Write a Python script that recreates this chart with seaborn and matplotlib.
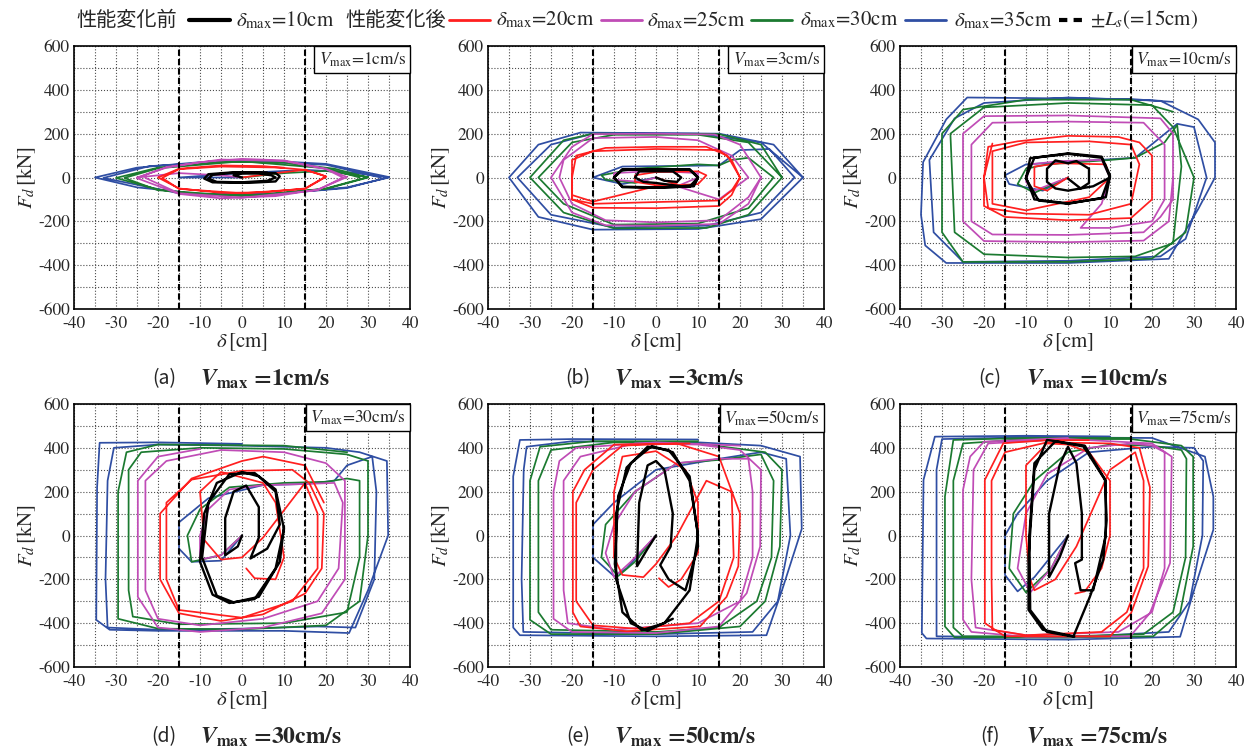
import matplotlib
matplotlib.use("Agg")
import matplotlib.pyplot as plt
from matplotlib.lines import Line2D
from matplotlib.offsetbox import AnchoredText
from matplotlib.ticker import MultipleLocator
import seaborn as sns

# damper stroke levels (delta_max) and their colours
DMAX = [10, 20, 25, 30, 35]
COLORS = ["#000000", "#ff1f1f", "#c04cb6", "#1b7a30", "#2f4ea3"]
VMAX = [1, 3, 10, 30, 50, 75]
TAGS = ["a", "b", "c", "d", "e", "f"]
LS = 15  # stroke limit +-Ls

# loops as (delta [cm], Fd [kN]) vertices
# (a) Vmax = 1cm/s
A10 = [(0, 0), (-2, 10), (0, 18), (4, 18), (7, 10), (8, 0), (6, -15), (0, -22), (-6, -20), (-8, -5), (-7, 12),
       (-3, 20), (3, 22), (8, 20), (9, 5), (8, -18), (2, -24), (-7, -22), (-9, -5), (-8, 15), (-2, 24), (6, 22)]
A20 = [(0, 0), (8, 20), (15, 35), (20, 5), (15, -50), (5, -68), (-5, -70), (-15, -50), (-20, 0), (-15, 40),
       (-5, 55), (5, 52), (15, 35), (19, 12), (20, 3), (15, -52), (0, -72), (-15, -52), (-19, -2), (-15, 38),
       (-5, 50), (10, 45)]
A25 = [(0, 0), (-5, 10), (-15, 20), (-25, 0), (-18, 45), (-10, 70), (0, 85), (10, 78), (20, 40), (25, 2),
       (18, -55), (8, -85), (-5, -95), (-15, -75), (-25, -3), (-18, 48), (-5, 82), (10, 75), (20, 38), (24, 0),
       (18, -58), (0, -92), (-15, -72), (-23, -2)]
A30 = [(0, 0), (10, 20), (20, 30), (30, 2), (20, -50), (5, -80), (-10, -78), (-20, -55), (-30, -2), (-20, 45),
       (-5, 72), (10, 68), (22, 40), (30, 0), (20, -52), (0, -85), (-20, -58), (-28, -2), (-20, 42), (0, 74),
       (20, 42), (28, 0)]
A35 = [(0, 0), (-15, 0), (0, 20), (15, 35), (25, 25), (35, 0), (25, -45), (10, -72), (-10, -75), (-25, -45),
       (-35, 0), (-25, 45), (-10, 70), (5, 78), (20, 62), (35, 2), (25, -48), (5, -80), (-15, -72), (-33, -2),
       (-22, 52), (0, 75), (20, 58), (33, 0)]

# (b) Vmax = 3cm/s
B10 = [(0, 0), (2, -15), (5, -20), (6, 0), (4, 28), (-4, 28), (-5, 0), (-3, -20), (0, -25), (6, -40), (9, -35),
       (10, 0), (8, 35), (0, 38), (-8, 35), (-10, 0), (-8, -42), (0, -45), (8, -42), (10, 0), (8, 38), (-8, 38),
       (-10, 0), (-8, -44), (0, -47), (9, -40), (10, 0)]
B20 = [(0, 0), (3, -20), (5, -30), (0, -35), (-5, -20), (-5, 10), (0, 25), (10, 28), (12, 10), (10, -30),
       (0, -40), (-15, -110), (-20, -80), (-20, 80), (-15, 120), (0, 130), (15, 125), (18, 80), (20, 0),
       (18, -60), (15, -105), (0, -112), (-15, -120), (-20, -100), (-20, 0), (-19, 100), (-12, 135), (0, 140),
       (12, 140), (17, 100), (20, 0), (18, -80), (15, -130), (0, -140), (-15, -138), (-20, -100), (-20, 0)]
B25 = [(0, 0), (-4, -20), (-10, -10), (-10, 20), (0, 30), (10, 20), (10, 0), (5, -40), (15, -100), (22, 0),
       (18, 100), (10, 170), (0, 185), (-15, 180), (-22, 80), (-23, 0), (-20, -120), (-12, -195), (0, -205),
       (15, -195), (22, -90), (25, 0), (20, 150), (14, 196), (0, 200), (-15, 198), (-20, 140), (-25, 0),
       (-20, -160), (-12, -218), (0, -220), (15, -212), (22, -120), (25, 0)]
B30 = [(0, 0), (-5, -25), (-12, -10), (-13, 10), (-5, 40), (10, 60), (15, 55), (18, 80), (22, 90), (28, 0),
       (22, -140), (10, -210), (-10, -215), (-22, -120), (-28, 0), (-20, 160), (-10, 195), (10, 195), (22, 160),
       (30, 0), (22, -170), (12, -230), (-10, -232), (-22, -160), (-30, 0), (-22, 170), (-15, 200), (15, 198),
       (25, 150), (30, 0)]
B35 = [(0, 0), (-8, -30), (-15, 0), (-8, 50), (15, 55), (20, 125), (27, 130), (33, 0), (25, -160), (12, -220),
       (-10, -228), (-25, -170), (-33, 0), (-25, 150), (-15, 200), (10, 200), (25, 160), (35, 0), (25, -190),
       (10, -235), (-15, -238), (-28, -180), (-35, 0), (-28, 150), (-18, 205), (15, 200), (28, 150), (35, 0)]

# (c) Vmax = 10cm/s
C10 = [(0, -5), (3, -50), (5, -25), (5, 40), (2, 75), (0, 65), (-3, 78), (-5, 40), (-5, -20), (-3, -50),
       (0, -60), (6, -40), (10, 0), (8, 90), (0, 108), (-8, 90), (-10, 0), (-8, -100), (0, -118), (8, -95),
       (10, 10), (8, 95), (0, 110), (-9, 88), (-10, -5), (-7, -105), (0, -120), (9, -90), (10, 5)]
C20 = [(0, 0), (-5, -60), (-8, -40), (-8, 50), (-2, 65), (9, 60), (10, 0), (5, -90), (-10, -150), (-18, -120),
       (-18, 120), (-10, 160), (5, 165), (15, 150), (17, 60), (15, -120), (5, -170), (-10, -165), (-19, -140),
       (-20, 0), (-19, 140), (-12, 165), (0, 190), (12, 185), (17, 160), (20, 100), (20, -100), (15, -185),
       (0, -195), (-15, -180), (-20, -130), (-20, 0), (-18, 155)]
C25 = [(0, 0), (-8, -60), (-10, -20), (-9, 60), (-2, 75), (8, 80), (10, 0), (8, -120), (3, -230), (10, -230),
       (20, -200), (23, -100), (23, 150), (18, 250), (0, 255), (-18, 250), (-23, 150), (-23, -200), (-18, -260),
       (0, -262), (18, -250), (22, -180), (25, -100), (25, 200), (22, 270), (0, 283), (-20, 280), (-25, 200),
       (-25, -200), (-20, -290), (0, -295), (18, -288), (24, -200), (25, 0)]
C30 = [(0, 0), (-8, -70), (-12, -30), (-10, 40), (-5, 60), (10, 80), (16, 90), (23, 160), (26, 240), (27, 50),
       (25, -300), (16, -360), (0, -365), (-20, -350), (-27, -250), (-28, 200), (-20, 320), (0, 340), (20, 330),
       (25, 230), (30, 0), (28, -250), (20, -370), (0, -385), (-25, -385), (-30, -250), (-30, 200), (-25, 310),
       (-10, 355), (15, 355), (25, 300)]
C35 = [(0, 0), (-6, -60), (-14, -30), (-15, 10), (-10, 60), (16, 90), (26, 245), (30, 230), (33, 0), (28, -280),
       (22, -360), (0, -380), (-25, -385), (-32, -250), (-33, 80), (-27, 270), (-20, 340), (0, 365), (22, 350),
       (31, 265), (35, 160), (35, 0), (31, -144), (24, -371), (0, -390), (-29, -390), (-34, -310), (-35, -170),
       (-34.5, 70), (-29, 265), (-24, 365), (15, 358), (25, 345)]

# (d) Vmax = 30cm/s
D10 = [(0, 0), (-1, -50), (-4, -90), (-4, 80), (-2, 200), (1, 228), (4, 130), (4, -10), (2, -105), (6, -60),
       (9, 50), (8, 200), (4, 270), (0, 290), (-6, 240), (-9, 100), (-10, -120), (-7, -270), (-3, -308),
       (3, -290), (8, -150), (10, 30), (8, 210), (3, 285), (-3, 280), (-8, 150), (-9.5, -100), (-6, -275),
       (-2, -305), (4, -280), (9, -120), (10, 40)]
D20 = [(1, -150), (3, -195), (8, -200), (10, -100), (8, 150), (5, 240), (-5, 290), (-10, 200), (-9, -20),
       (-5, -110), (0, -100), (5, -10), (15, 240), (18, 100), (18, -150), (12, -300), (0, -375), (-15, -340),
       (-18, -200), (-18, 150), (-12, 255), (0, 295), (12, 300), (16, 240), (19.5, 100), (19, -150), (15, -265),
       (5, -360), (-5, -390), (-15, -355), (-19.5, -200), (-19.5, 100), (-12, 260), (0, 340), (5, 360),
       (15, 320), (19.5, 150)]
D25 = [(0, 0), (-5, -90), (-10, -110), (-10, 0), (-8, 120), (-3, 210), (5, 230), (15, 235), (22, 240), (24, 150),
       (23, -150), (18, -300), (5, -380), (-10, -410), (-20, -380), (-23, -250), (-23, 250), (-18, 340),
       (-5, 390), (10, 380), (20, 330), (24.5, 250), (24.5, -200), (19, -355), (5, -420), (-10, -440),
       (-20, -420), (-24.8, -280), (-24.8, 250), (-20, 360), (-10, 395)]
D30 = [(0, 0), (-5, -90), (-12, -120), (-13, 0), (-10, 120), (-3, 220), (10, 240), (20, 245), (25, 260),
       (28, 250), (28, -100), (25, -350), (10, -400), (-15, -405), (-26, -370), (-27, -250), (-27, 300),
       (-24, 380), (-10, 400), (10, 395), (25, 370), (30, 340), (30, 0), (28, -300), (20, -410), (0, -428),
       (-20, -425), (-29.5, -380), (-29.5, 200), (-27.5, 380), (-20, 415), (10, 410), (25, 380)]
D35 = [(0, 0), (-5, -115), (-12, -120), (-15, -60), (-15, 60), (-8, 170), (5, 230), (15, 235), (22, 250),
       (25, 320), (31, 360), (32, 200), (31.5, -200), (27, -420), (18, -415), (0, -425), (-20, -430), (-32, -420),
       (-32.5, -200), (-32, 250), (-30.5, 400), (-20, 415), (0, 410), (20, 400), (28, 380), (34.5, 340),
       (34.8, 0), (30, -250), (25.5, -445), (10, -435), (-20, -435), (-31.5, -430), (-34.7, -385), (-34.5, 220),
       (-33.9, 423), (-20, 425), (0, 418)]

# (e) Vmax = 50cm/s
E10 = [(0, 0), (-2, -60), (-4.5, -140), (-4, 150), (-2, 320), (0, 340), (2, 300), (4, 100), (3.5, -50),
       (1, -135), (3, -200), (7, -250), (10, -50), (9.8, 30), (8, 250), (4, 380), (-1, 408), (-6, 330), (-9, 180),
       (-9.8, -130), (-8, -350), (-3.4, -432), (2, -400), (8, -250), (10, 0), (8, 270), (3, 390), (-2, 405),
       (-7, 310), (-9.5, 100), (-9.5, -200), (-6, -400), (-2, -435), (4, -380)]
E20 = [(0.7, -195), (3, -235), (6, -200), (10, -80), (10, 150), (7, 300), (0, 385), (-8, 360), (-10, 200),
       (-10, -100), (-8, -180), (-3, -190), (0, -130), (5, 0), (12, 250), (18, 200), (18.5, -100), (15, -300),
       (8, -400), (-5, -425), (-15, -410), (-19, -300), (-19, 150), (-15, 300), (-8, 410), (5, 420), (15, 360),
       (20, 100), (19.6, -140), (16.8, -280), (10.5, -415), (-7, -437), (-18, -415), (-19.8, -350),
       (-19.8, 200), (-17, 300), (-10, 415), (8, 420)]
E25 = [(0, 0), (-6, -120), (-10, -190), (-12, -80), (-10, 50), (-5, 200), (5, 330), (15, 350), (22, 350),
       (23, 200), (23, -100), (20, -300), (10, -400), (-10, -430), (-21, -400), (-22, -250), (-22, 250),
       (-18, 360), (-5, 420), (10, 415), (20, 390), (25, 300), (24.8, -50), (21.6, -263), (15, -415), (0, -445),
       (-20, -440), (-24.4, -380), (-24.4, 200), (-23, 340), (-19, 400), (0, 425), (20, 410)]
E30 = [(0, 0), (-5, -120), (-9, -185), (-13, -100), (-12, 50), (-5, 200), (5, 330), (15, 345), (25, 370),
       (28, 250), (27.5, -100), (24, -300), (15, -420), (0, -440), (-25, -430), (-28, -350), (-28, 250),
       (-25, 390), (-10, 425), (10, 420), (26, 380), (30, 300), (29.5, -50), (26, -300), (20, -415), (0, -450),
       (-25, -450), (-30, -385), (-30, 250), (-27.6, 405), (-15, 430), (10, 430)]
E35 = [(0, 0), (-7, -150), (-10, -185), (-15, -100), (-15, 50), (-10, 150), (0, 300), (15, 350), (25, 380),
       (31, 350), (32, 0), (29, -300), (23, -440), (0, -450), (-31.6, -440), (-32, -200), (-31.5, 300),
       (-30.8, 405), (-20, 430), (10, 425), (25, 410), (34.3, 360), (34.7, 30), (30, -250), (26.3, -455),
       (0, -460), (-32.4, -455), (-34, -420), (-34, 270), (-32.4, 436), (-20, 440), (10, 438)]

# (f) Vmax = 75cm/s
F10 = [(0, 0), (-2, -100), (-4.5, -190), (-4.5, 100), (-2, 320), (0, 405), (2, 330), (3.3, 100), (3.3, -110),
       (1.7, -126), (3, -250), (6, -250), (9, 0), (9, 250), (4, 410), (-5, 436), (-8, 300), (-9.4, -100),
       (-9.4, -339), (-6, -430), (1.3, -460), (5.2, -280), (8.4, -110), (9.2, 70), (8.8, 254), (3.7, 406),
       (-3, 430), (-8, 330), (-9.2, 0), (-9, -340), (-5, -440), (1.5, -462)]
F20 = [(1.7, -265), (4, -255), (8, -150), (10, 0), (10, 250), (5, 380), (0, 415), (-5, 420), (-10, 320),
       (-10, 0), (-9, -200), (-8, -250), (-3, -200), (2, -50), (10, 300), (16, 380), (18, 250), (18, -150),
       (14, -350), (8, -440), (-10, -455), (-18, -430), (-18.2, -200), (-18.2, 250), (-15, 380), (-5, 425),
       (10, 420), (17, 400), (19.5, 220), (19.1, -140), (15, -355), (10, -460), (-15, -460), (-19.8, -400),
       (-19.8, 254), (-15.4, 421), (-5, 435), (5, 435)]
F25 = [(0, 0), (-4, -150), (-9, -260), (-12, -150), (-10, 100), (-5, 280), (5, 400), (15, 420), (20, 410),
       (23, 380), (23, -150), (20, -350), (12, -440), (-10, -455), (-22, -420), (-23, -200), (-22.5, 300),
       (-19, 420), (0, 440), (20, 420), (24.7, 360), (24.3, -126), (19.5, -354), (14.8, -460), (-10, -462),
       (-23, -440), (-25, -384), (-25, 208), (-23.3, 360), (-20, 428), (0, 445)]
F30 = [(0, 0), (-4, -150), (-10, -260), (-14, -150), (-13, 100), (-8, 250), (0, 380), (10, 415), (20, 410),
       (27, 390), (28.2, 350), (28, -100), (25, -350), (18, -450), (0, -460), (-25, -460), (-27.3, -420),
       (-27.3, 250), (-25, 420), (-10, 440), (15, 440), (27, 410), (29.8, 360), (29.8, -50), (26.7, -354),
       (20.3, -460), (0, -465), (-27, -465), (-29.3, -415), (-29.3, 178), (-27.3, 436), (-10, 445), (15, 445)]
F35 = [(0, 0), (-8, -190), (-12, -255), (-15, -180), (-15, 0), (-12, 100), (-5, 250), (5, 380), (20, 405),
       (30, 400), (32.2, 340), (32, 0), (29, -300), (24, -440), (0, -465), (-31.3, -460), (-31.3, -200),
       (-31.3, 300), (-30, 440), (-10, 448), (20, 445), (32.6, 360), (34.6, 178), (34.6, 26), (30, -250),
       (26.7, -462), (0, -475), (-33.7, -470), (-34.8, -445), (-34.4, 254), (-31.7, 451), (-10, 455), (10, 452)]

LOOPS = [[A10, A20, A25, A30, A35], [B10, B20, B25, B30, B35], [C10, C20, C25, C30, C35],
         [D10, D20, D25, D30, D35], [E10, E20, E25, E30, E35], [F10, F20, F25, F30, F35]]

sns.set_style("white")
plt.rcParams["font.family"] = ["STIXGeneral", "Noto Sans CJK JP"]
plt.rcParams["mathtext.fontset"] = "stix"
plt.rcParams["axes.unicode_minus"] = False

W, H = 1252, 749
fig = plt.figure(figsize=(W / 100, H / 100), dpi=100)
lefts = [74, 488, 900]
tops = [46, 404]
aw, ah = 336, 263

for i, (tag, v, loops) in enumerate(zip(TAGS, VMAX, LOOPS)):
    r, c = divmod(i, 3)
    ax = fig.add_axes([lefts[c] / W, 1 - (tops[r] + ah) / H, aw / W, ah / H])
    for k in [4, 3, 2, 1, 0]:
        xs = [p[0] for p in loops[k]]
        ys = [p[1] for p in loops[k]]
        sns.lineplot(x=xs, y=ys, sort=False, estimator=None, color=COLORS[k],
                     linewidth=1.7 if k == 0 else 1.25, ax=ax, zorder=3 + (4 - k),
                     solid_joinstyle="round")
    for s in (-LS, LS):
        ax.axvline(s, color="k", ls=(0, (3, 1.5)), lw=1.5, zorder=9)
    ax.set_xlim(-40, 40)
    ax.set_ylim(-600, 600)
    ax.xaxis.set_major_locator(MultipleLocator(10))
    ax.xaxis.set_minor_locator(MultipleLocator(5))
    ax.yaxis.set_major_locator(MultipleLocator(200))
    ax.yaxis.set_minor_locator(MultipleLocator(100))
    ax.grid(which="both", ls=":", color="0.3", lw=0.8)
    ax.set_axisbelow(True)
    ax.tick_params(which="major", direction="in", length=3, labelsize=12.5)
    ax.tick_params(axis="x", pad=5)
    ax.tick_params(axis="y", pad=3)
    ax.tick_params(which="minor", length=0)
    for sp in ax.spines.values():
        sp.set_color("k")
        sp.set_linewidth(1.2)
    ax.set_xlabel(r"$\delta\,$[cm]", fontsize=15, labelpad=0)
    ax.set_ylabel(r"$F_d\,$[kN]", fontsize=15, labelpad=0)
    at = AnchoredText(r"$V_{\rm max}$=%dcm/s" % v, loc="upper right", borderpad=0, pad=0.25,
                      prop=dict(size=12.5))
    at.patch.set_linewidth(1.0)
    at.patch.set_edgecolor("k")
    at.zorder = 10
    ax.add_artist(at)

    cx = lefts[c] + aw / 2
    cy = 1 - (tops[r] + ah + 70) / H
    fig.text((cx - 78) / W, cy, "(%s)" % tag, family=["Noto Sans CJK JP"], fontsize=14,
             ha="center", va="center")
    fig.text((cx - 42) / W, cy, r"$\mathbfit{V}_{\mathbf{max}}$ =%dcm/s" % v, fontsize=17,
             fontweight="bold", ha="left", va="center")

# legend row across the top
ly = 1 - 20 / H
fig.text(76 / W, ly, "性能変化前", family=["Noto Sans CJK JP"], fontsize=14.5, va="center")
fig.text(345 / W, ly, "性能変化後", family=["Noto Sans CJK JP"], fontsize=14.5, va="center")
handles = [(189, 230), (449, 490), (601, 642), (751, 792), (905, 946)]
label_x = [236, 496, 647, 800, 954]
for k, ((x0, x1), lx) in enumerate(zip(handles, label_x)):
    fig.add_artist(Line2D([x0 / W, x1 / W], [ly, ly], color=COLORS[k], lw=3 if k == 0 else 2,
                          transform=fig.transFigure))
    fig.text(lx / W, ly, r"$\delta_{\rm max}$=%dcm" % DMAX[k], fontsize=15, va="center")
fig.add_artist(Line2D([1059 / W, 1088 / W], [ly, ly], color="k", lw=3, ls=(0, (2, 1.5)),
                      transform=fig.transFigure))
fig.text(1090 / W, ly, r"$\pm L_s$(=%dcm)" % LS, fontsize=15, va="center")

fig.savefig("out.png", dpi=100)
